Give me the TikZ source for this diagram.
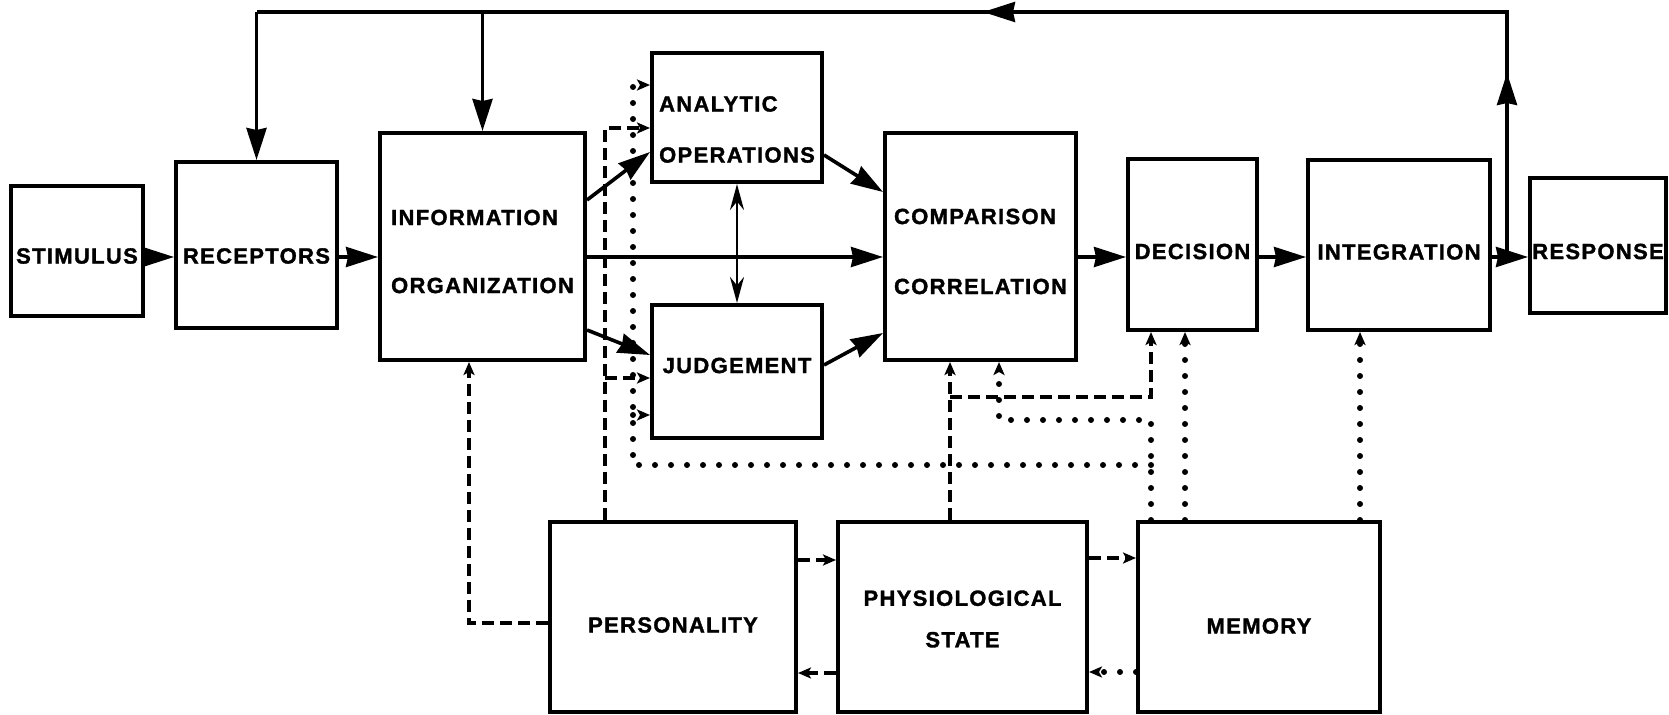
\documentclass[tikz,border=0pt]{standalone}
\usepackage{fontspec}
\setmainfont[LetterSpace=6, BoldFeatures={FakeBold=1.5}]{Liberation Sans}
\usetikzlibrary{arrows.meta}
\newcommand\lowtext[2]{\raisebox{-#1}[\height][\depth]{#2}}

\begin{document}
\begin{tikzpicture}[x=0.5pt, y=-0.5pt,
  box/.style={draw, line width=2pt, inner sep=0pt, align=left,
    font=\fontsize{11}{13}\selectfont\bfseries},
  arr/.style={-{Stealth[length=16pt, width=10pt, inset=1pt]}, line width=1.8pt},
  link/.style={line width=1.9pt},
  twoway/.style={{Stealth[length=13pt, width=7pt]}-{Stealth[length=13pt, width=7pt]}, line width=1.4pt},
  dashline/.style={-{Stealth[length=6.5pt, width=5.5pt, inset=1.5pt]}, line width=1.8pt, dash pattern=on 6pt off 3pt},
  dotline/.style={-{Stealth[length=6.5pt, width=5.5pt, inset=1.5pt]}, line width=3pt, line cap=round, dash pattern=on 0pt off 8pt}
]
  \useasboundingbox (0,0) rectangle (1669,715);

  \node[box, minimum width=66pt, minimum height=65pt] (stimulus) at (77,251) {\lowtext{2.5pt}{STIMULUS}};
  \node[box, minimum width=80.5pt, minimum height=83pt] (receptors) at (256.5,245) {\lowtext{5.5pt}{RECEPTORS}};
  \node[box, minimum width=102.5pt, minimum height=113.5pt] (info) at (482.5,246.5)
    {\lowtext{2.5pt}{INFORMATION}\\[21pt]\lowtext{2.5pt}{ORGANIZATION}};
  \node[box, minimum width=85pt, minimum height=64.5pt] (analytic) at (737,117.5)
    {\lowtext{6pt}{ANALYTIC}\\[12.5pt]\lowtext{6pt}{OPERATIONS}};
  \node[box, minimum width=85pt, minimum height=66.5pt] (judge) at (737,371.5) {\lowtext{-3pt}{JUDGEMENT}};
  \node[box, minimum width=95.5pt, minimum height=113.5pt] (compare) at (980.5,246.5)
    {\lowtext{2.5pt}{COMPARISON}\\[22pt]\lowtext{2.5pt}{CORRELATION}};
  \node[box, minimum width=64.5pt, minimum height=85.5pt] (decision) at (1192.5,244.5) {\lowtext{3.5pt}{DECISION}};
  \node[box, minimum width=91pt, minimum height=85pt] (integ) at (1399,245) {\lowtext{3.5pt}{INTEGRATION}};
  \node[box, minimum width=68pt, minimum height=67.5pt] (response) at (1598,245.5) {\lowtext{3pt}{RESPONSE}};
  \node[box, minimum width=123pt, minimum height=95pt] (person) at (673,617) {\lowtext{4pt}{PERSONALITY}};
  \node[box, align=center, minimum width=124.5pt, minimum height=95pt] (physio) at (962.5,617)
    {\lowtext{1pt}{PHYSIOLOGICAL}\\[7.75pt]\lowtext{1pt}{STATE}};
  \node[box, minimum width=121pt, minimum height=95pt] (memory) at (1259,617) {\lowtext{4.5pt}{MEMORY}};

  \coordinate (row) at (0,257);
  \draw[arr] (stimulus.east |- row) -- (receptors.west |- row);
  \draw[arr] (receptors.east |- row) -- (info.west |- row);
  \draw[arr] (info.east |- row) -- (compare.west |- row);
  \draw[arr] (compare.east |- row) -- (decision.west |- row);
  \draw[arr] (decision.east |- row) -- (integ.west |- row);
  \draw[arr] (integ.east |- row) -- (response.west |- row);

  \draw[arr] (info.east |- 0,200) -- (analytic.west |- 0,152);
  \draw[arr] (info.east |- 0,330) -- (judge.west |- 0,355);
  \draw[arr] (analytic.east |- 0,155) -- (compare.west |- 0,192);
  \draw[arr] (judge.east |- 0,365) -- (compare.west |- 0,333);
  \draw[twoway] (analytic.south) -- (judge.north);

  % feedback loop over the top
  \coordinate (fbbase) at (1507,257);
  \coordinate (fbtop) at (1507,12);
  \draw[link] (fbbase) -- (fbtop) -- (receptors.north |- fbtop);
  \draw[arr] (fbbase) -- (1507,73);
  \draw[arr] (fbtop) -- (983,12);
  \draw[arr] (receptors.north |- fbtop) -- (receptors.north);
  \draw[arr] (info.north |- fbtop) -- (info.north);

  % personality
  \draw[dashline] (605,0 |- person.north) -- (605,128) -- (analytic.west |- 0,128);
  \draw[dashline] (605,378) -- (judge.west |- 0,378);
  \draw[dashline] (person.west |- 0,623) -- (469,623) -- (info.south -| 469,0);
  \draw[dashline] (person.east |- 0,560) -- (physio.west |- 0,560);
  \draw[dashline] (physio.west |- 0,673) -- (person.east |- 0,673);

  % physiological state
  \draw[dashline] (950,0 |- physio.north) -- (950,0 |- compare.south);
  \draw[dashline] (950,397) -- (1151,397) -- (1151,0 |- decision.south);
  \draw[dashline] (physio.east |- 0,558) -- (memory.west |- 0,558);

  % memory
  \draw[dotline] (memory.west |- 0,672) -- (physio.east |- 0,672);
  \draw[dotline] (1151,0 |- memory.north) -- (1151,420) -- (999,420) -- (999,0 |- compare.south);
  \draw[dotline] (1151,465) -- (633,465) -- (633,85) -- (analytic.west |- 0,85);
  \draw[dotline] (633,415) -- (judge.west |- 0,415);
  \draw[dotline] (1185,0 |- memory.north) -- (1185,0 |- decision.south);
  \draw[dotline] (1360,0 |- memory.north) -- (1360,0 |- integ.south);
\end{tikzpicture}
\end{document}
